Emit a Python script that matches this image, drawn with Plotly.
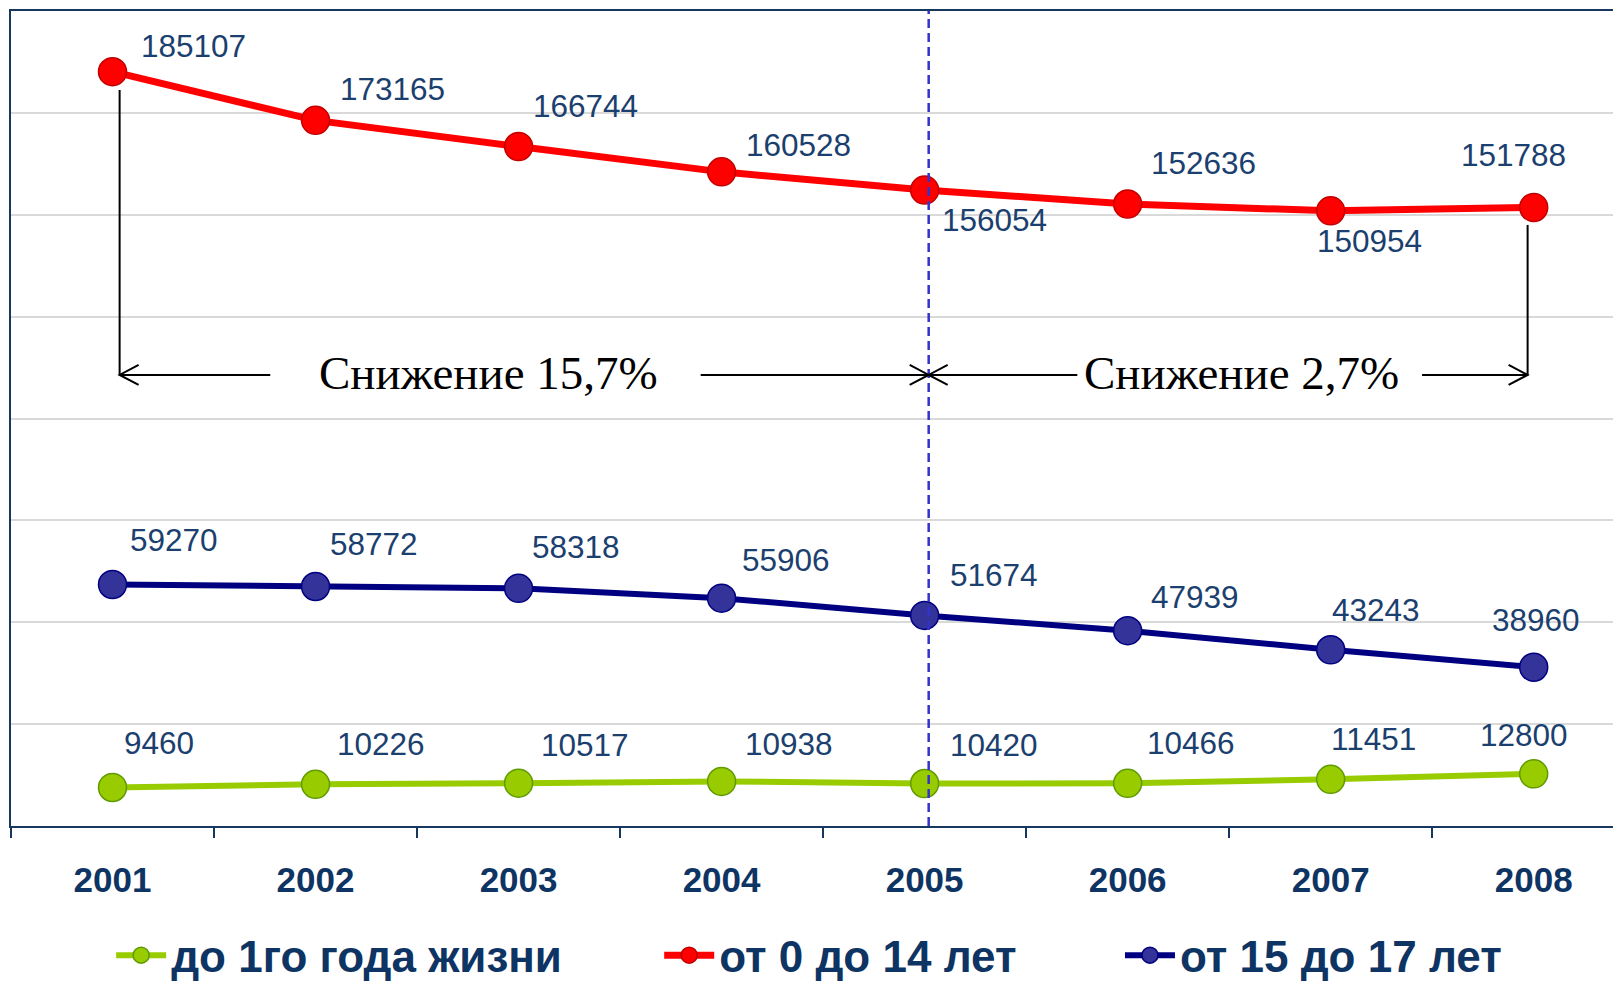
import plotly.graph_objects as go

years = ["2001", "2002", "2003", "2004", "2005", "2006", "2007", "2008"]
infants = [9460, 10226, 10517, 10938, 10420, 10466, 11451, 12800]
kids = [185107, 173165, 166744, 160528, 156054, 152636, 150954, 151788]
teens = [59270, 58772, 58318, 55906, 51674, 47939, 43243, 38960]

names = ["до 1го года жизни", "от 0 до 14 лет", "от 15 до 17 лет"]
notes = ["Снижение 15,7%", "Снижение 2,7%"]

# label offsets (px, right / down) for each series
S = 1.034
off_kids = [(78, -25), (74, -30), (65, -39), (74, -26), (68, 29), (73, -40), (38, 29), (-20, -51)]
off_teens = [(59, -43), (57, -41), (56, -40), (62, -37), (67, -39), (65, -33), (44, -38), (2, -46)]
off_inf = [(45, -43), (63, -39), (64, -37), (65, -36), (67, -37), (61, -39), (41, -39), (-9, -38)]

LABEL_COL = "#1B3F6E"
AXIS_COL = "#17375E"
TEXT_COL = "#0E3463"

idx = list(range(len(years)))

fig = go.Figure()

series = [
    (infants, names[0], "#99CC00", "#99CC00", "#5E9A00", "legend", 6),
    (kids, names[1], "#FF0000", "#FF0000", "#C00000", "legend2", 7),
    (teens, names[2], "#000080", "#333399", "#000080", "legend3", 6),
]
for vals, nm, lc, mc, oc, lg, lw in series:
    fig.add_trace(go.Scatter(
        x=idx, y=vals, name=nm, mode="lines+markers",
        line=dict(color=lc, width=lw),
        marker=dict(size=28, color=mc, line=dict(color=oc, width=1.5)),
        legend=lg, cliponaxis=False,
    ))

annotations = []
for vals, offs in [(kids, off_kids), (teens, off_teens), (infants, off_inf)]:
    for i, v in enumerate(vals):
        dx, dy = offs[i]
        annotations.append(dict(
            x=i, y=v, xref="x", yref="y", text=str(v), showarrow=False,
            xshift=dx * S, yshift=-dy * S,
            font=dict(family="Liberation Sans, Arial", size=31.5, color=LABEL_COL),
        ))

ARROW_Y = 110700
annotations.append(dict(x=1.85, y=ARROW_Y, text=notes[0], showarrow=False, yshift=2,
                        font=dict(family="Liberation Serif, Times New Roman", size=47, color="black")))
annotations.append(dict(x=5.56, y=ARROW_Y, text=notes[1], showarrow=False, yshift=2,
                        font=dict(family="Liberation Serif, Times New Roman", size=47, color="black")))

shapes = []
blk = dict(color="black", width=2)
# vertical dashed divider
shapes.append(dict(type="line", xref="x", yref="paper", x0=4.02, x1=4.02, y0=0, y1=1,
                   line=dict(color="#3333CC", width=2.5, dash="9px,5px")))
# vertical connector lines
shapes.append(dict(type="line", xref="x", yref="y", x0=0.035, x1=0.035, y0=180600, y1=ARROW_Y, line=blk))
shapes.append(dict(type="line", xref="x", yref="y", x0=6.97, x1=6.97, y0=147500, y1=ARROW_Y, line=blk))
# horizontal arrow segments
for a, b in [(0.035, 0.777), (2.897, 4.02), (4.02, 4.752), (6.45, 6.97)]:
    shapes.append(dict(type="line", xref="x", yref="y", x0=a, x1=b, y0=ARROW_Y, y1=ARROW_Y, line=blk))
# open arrowheads
for xa, d in [(0.035, 1), (4.02, -1), (4.02, 1), (6.97, -1)]:
    shapes.append(dict(type="path", xref="x", yref="y", xsizemode="pixel", ysizemode="pixel",
                       xanchor=xa, yanchor=ARROW_Y,
                       path=f"M {19*d},10 L 0,0 L {19*d},-10", line=blk))

legfont = dict(family="Liberation Sans, Arial", size=44, color=TEXT_COL, weight="bold")
LEG_Y = -0.159
fig.update_layout(
    width=1613, height=975,
    margin=dict(l=3, r=0, t=3, b=157, autoexpand=False),
    paper_bgcolor="white", plot_bgcolor="white",
    annotations=annotations, shapes=shapes,
    font=dict(family="Liberation Sans, Arial"),
    legend=dict(orientation="h", x=0.0622, y=LEG_Y, xanchor="left", yanchor="middle",
                itemwidth=50, bgcolor="rgba(0,0,0,0)", font=legfont),
    legend2=dict(orientation="h", x=0.4026, y=LEG_Y, xanchor="left", yanchor="middle",
                 itemwidth=50, bgcolor="rgba(0,0,0,0)", font=legfont),
    legend3=dict(orientation="h", x=0.6888, y=LEG_Y, xanchor="left", yanchor="middle",
                 itemwidth=50, bgcolor="rgba(0,0,0,0)", font=legfont),
    showlegend=True,
)
fig.update_xaxes(
    type="category", range=[-0.5, 7.43],
    tickvals=idx, ticktext=years,
    showline=True, linecolor=AXIS_COL, linewidth=2, mirror=True,
    ticks="outside", tickson="boundaries", ticklen=10, tickwidth=2, tickcolor=AXIS_COL,
    tickfont=dict(family="Liberation Sans, Arial", size=35, color=TEXT_COL, weight="bold"),
    ticklabelstandoff=22, showgrid=False,
)
fig.update_yaxes(
    range=[0, 200000], dtick=25000, showgrid=True, gridcolor="#D9D9D9", gridwidth=1.5,
    showticklabels=False, zeroline=False,
    showline=True, linecolor=AXIS_COL, linewidth=2,
)

fig.write_html("out.html")
